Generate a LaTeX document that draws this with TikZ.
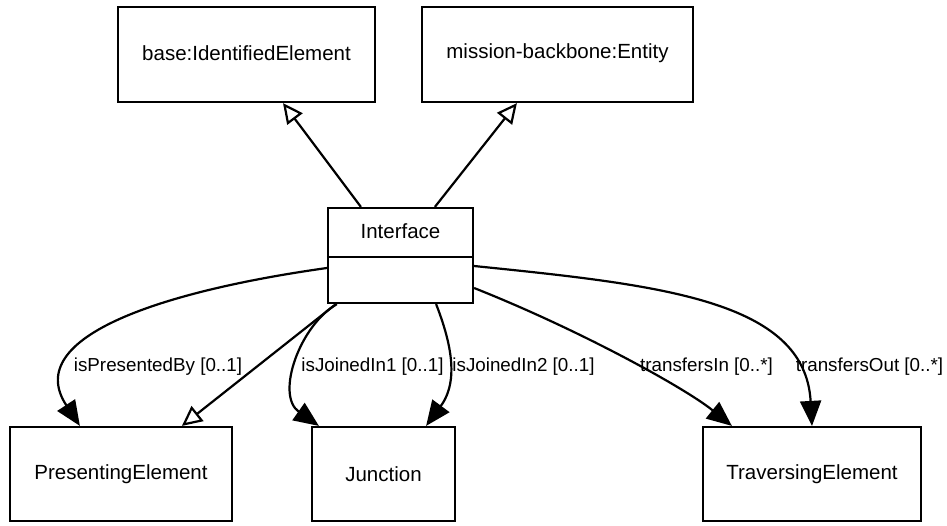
\documentclass[tikz,border=0pt]{standalone}
\usepackage{fontspec}
\setmainfont{Liberation Sans}
\usetikzlibrary{arrows.meta}
\newcommand{\boxfont}{\fontsize{20.5}{24}\selectfont}
\newcommand{\lblfont}{\fontsize{18.8}{22}\selectfont}
\begin{document}
\begin{tikzpicture}[x=1pt,y=-1pt,line width=2.2pt,
  umlbox/.style={draw, rectangle, inner sep=0pt, minimum height=95pt, font=\boxfont},
  lbl/.style={inner sep=0pt, font=\lblfont},
  gen/.style={-{Triangle[open,length=20pt,width=19pt]}},
  assoc/.style={-{Triangle[length=25pt,width=21pt]}}]
\useasboundingbox (0,0) rectangle (947,525);
\fill[white] (0,0) rectangle (947,525);
% nodes
\node[umlbox, minimum width=257pt] (base) at (246.5,54.5) {};
\node[font=\boxfont, inner sep=0pt] (basetxt) at (246.5,53) {base:IdentifiedElement};
\node[umlbox, minimum width=271pt] (mission) at (557.5,54.5) {};
\node[font=\boxfont, inner sep=0pt] (missiontxt) at (557.5,53) {mission-backbone:Entity};
\node[umlbox, minimum width=145pt] (iface) at (400.5,255.5) {};
\node[font=\boxfont, inner sep=0pt] (ifacetxt) at (400.5,231) {Interface};
\draw ([yshift=-1.5pt]iface.west) -- ([yshift=-1.5pt]iface.east);
\node[umlbox, minimum width=222pt, minimum height=94pt] (pres) at (121,474) {PresentingElement};
\node[umlbox, minimum width=143pt, minimum height=94pt] (junc) at (383.5,474) {Junction};
\node[umlbox, minimum width=218pt, minimum height=94pt] (trav) at (812,474) {TraversingElement};
% generalizations
\draw[gen] ([xshift=34pt]iface.north west) -- ([xshift=36.5pt]base.south);
\draw[gen] ([xshift=108pt]iface.north west) -- ([xshift=96pt]mission.south west);
\draw[gen] ([xshift=9pt]iface.south west) -- ([xshift=173pt]pres.north west);
% associations
\draw[assoc] ([yshift=-12.5pt]iface.west) .. controls (170,290) and (20,335) .. ([xshift=71pt]pres.north west);
\draw[assoc] ([xshift=10pt]iface.south west) .. controls (300,325) and (275,395) .. ([xshift=8pt]junc.north west);
\draw[assoc] ([xshift=-38pt]iface.south east) .. controls (450,340) and (460,380) .. ([xshift=-30pt]junc.north east);
\draw[assoc] ([yshift=-32.5pt]iface.east) .. controls (580,330) and (685,388) .. ([xshift=30pt]trav.north west);
\draw[assoc] ([yshift=-10.5pt]iface.east) .. controls (660,285) and (805,300) .. (trav.north);
% labels
\node[lbl] (l1) at (158,367) {isPresentedBy [0..1]};
\node[lbl] (l2) at (372.5,367) {isJoinedIn1 [0..1]};
\node[lbl] (l3) at (523.5,367) {isJoinedIn2 [0..1]};
\node[lbl] (l4) at (706.5,367) {transfersIn [0..*]};
\node[lbl] (l5) at (869.5,367) {transfersOut [0..*]};
\end{tikzpicture}
\end{document}
